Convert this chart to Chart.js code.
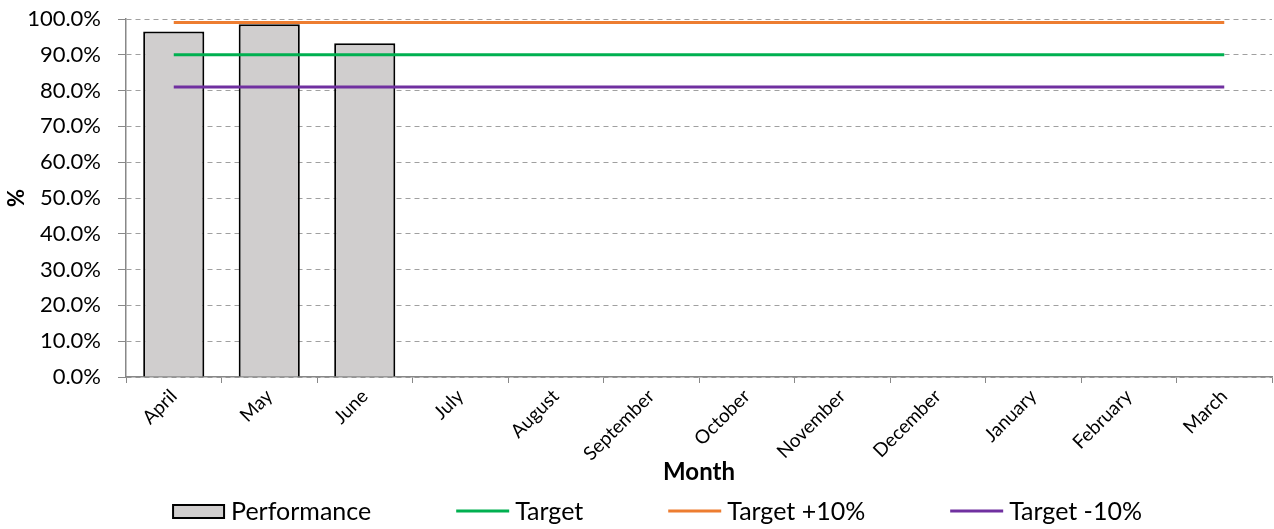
<!DOCTYPE html>
<html>
<head>
<meta charset="utf-8">
<title>Performance vs Target</title>
<script src="https://cdn.jsdelivr.net/npm/chart.js@4"></script>
<style>
  html, body { margin: 0; padding: 0; background: #fff; }
  #wrap { width: 1274px; height: 529px; }
</style>
</head>
<body>
<div id="wrap"><canvas id="perfChart" width="1274" height="529"></canvas></div>
<script>
// monthly figures (financial year April -> March)
const months = ['April', 'May', 'June', 'July', 'August', 'September', 'October',
                'November', 'December', 'January', 'February', 'March'];
const performance = [96.5, 98.5, 93.2, null, null, null, null, null, null, null, null, null];
const target      = [90, 90, 90, 90, 90, 90, 90, 90, 90, 90, 90, 90];
const targetPlus  = [99, 99, 99, 99, 99, 99, 99, 99, 99, 99, 99, 99];
const targetMinus = [81, 81, 81, 81, 81, 81, 81, 81, 81, 81, 81, 81];
const yTicks = [0, 10, 20, 30, 40, 50, 60, 70, 80, 90, 100];

const FONT = 'Lato, "Open Sans", sans-serif';

function lineSet(label, data, color) {
    return {
        type: 'line',
        label: label,
        data: data,
        borderColor: color,
        backgroundColor: color,
        borderWidth: 3,
        pointRadius: 0,
        order: 1
    };
}

// keep the plot box fixed: no extra label padding from the scales
function noScalePadding(scale) {
    scale.paddingTop = 0;
    scale.paddingBottom = 0;
    scale.paddingLeft = 0;
    scale.paddingRight = 0;
}

// legend row under the axis title, spaced like the office-style legend
const bottomLegend = {
    id: 'bottomLegend',
    afterDraw(chart) {
        const c = chart.ctx;
        const sets = chart.data.datasets;
        const markW = 53, gapText = 6, gapItem = 85, midX = 657, y = 511;
        c.save();
        c.font = '25px ' + FONT;
        c.textBaseline = 'middle';
        c.fillStyle = '#000';
        const widths = sets.map(d => markW + gapText + c.measureText(d.label).width);
        const total = widths.reduce((a, b) => a + b, 0) + gapItem * (sets.length - 1);
        let x = midX - total / 2;
        sets.forEach((d, i) => {
            if (d.type === 'line') {
                c.strokeStyle = d.borderColor;
                c.lineWidth = d.borderWidth;
                c.beginPath();
                c.moveTo(x, y);
                c.lineTo(x + markW, y);
                c.stroke();
            } else {
                c.fillStyle = d.backgroundColor;
                c.fillRect(x + 1, y - 6, markW - 2, 13);
                c.strokeStyle = d.borderColor;
                c.lineWidth = 2;
                c.strokeRect(x + 1, y - 6, markW - 2, 13);
            }
            c.fillStyle = '#000';
            c.fillText(d.label, x + markW + gapText, y + 1);
            x += widths[i] + gapItem;
        });
        c.restore();
    }
};

const ctx = document.getElementById('perfChart');

new Chart(ctx, {
    type: 'bar',
    data: {
        labels: months,
        datasets: [
            {
                label: 'Performance',
                data: performance,
                backgroundColor: '#d0cece',
                borderColor: '#000',
                borderWidth: 2,
                barPercentage: 0.64,
                categoryPercentage: 1,
                order: 2
            },
            lineSet('Target', target, '#00b050'),
            lineSet('Target +10%', targetPlus, '#ed7d31'),
            lineSet('Target -10%', targetMinus, '#7030a0')
        ]
    },
    plugins: [bottomLegend],
    options: {
        responsive: false,
        animation: false,
        devicePixelRatio: 1,
        layout: { padding: { top: 19, right: 2, bottom: 42, left: 0 } },
        plugins: {
            tooltip: { enabled: false },
            legend: { display: false }
        },
        scales: {
            x: {
                grid: {
                    display: true,
                    drawOnChartArea: false,
                    drawTicks: true,
                    tickLength: 6,
                    color: '#888'
                },
                border: { color: '#888', width: 1.5 },
                ticks: {
                    font: { family: FONT, size: 19 },
                    color: '#000',
                    minRotation: 45,
                    maxRotation: 45,
                    padding: 2
                },
                title: {
                    display: true,
                    text: 'Month',
                    font: { family: FONT, size: 24, weight: 'bold' },
                    color: '#000',
                    padding: { top: 0, bottom: 0 }
                },
                afterFit: (scale) => { scale.height = 110; noScalePadding(scale); }
            },
            y: {
                min: 0,
                max: 100,
                afterBuildTicks: (scale) => { scale.ticks = yTicks.map(v => ({ value: v })); },
                grid: {
                    color: '#a0a0a0',
                    tickLength: 8,
                    tickColor: '#888'
                },
                border: { color: '#888', width: 1.5, dash: [5, 4] },
                ticks: {
                    font: { family: FONT, size: 22 },
                    color: '#000',
                    padding: 17,
                    callback: (v) => v.toFixed(1) + '%'
                },
                title: {
                    display: true,
                    text: '%',
                    font: { family: FONT, size: 22, weight: 'bold' },
                    color: '#000',
                    padding: { top: 4, bottom: 0 }
                },
                afterFit: (scale) => { scale.width = 126; noScalePadding(scale); }
            }
        }
    }
});
</script>
</body>
</html>
